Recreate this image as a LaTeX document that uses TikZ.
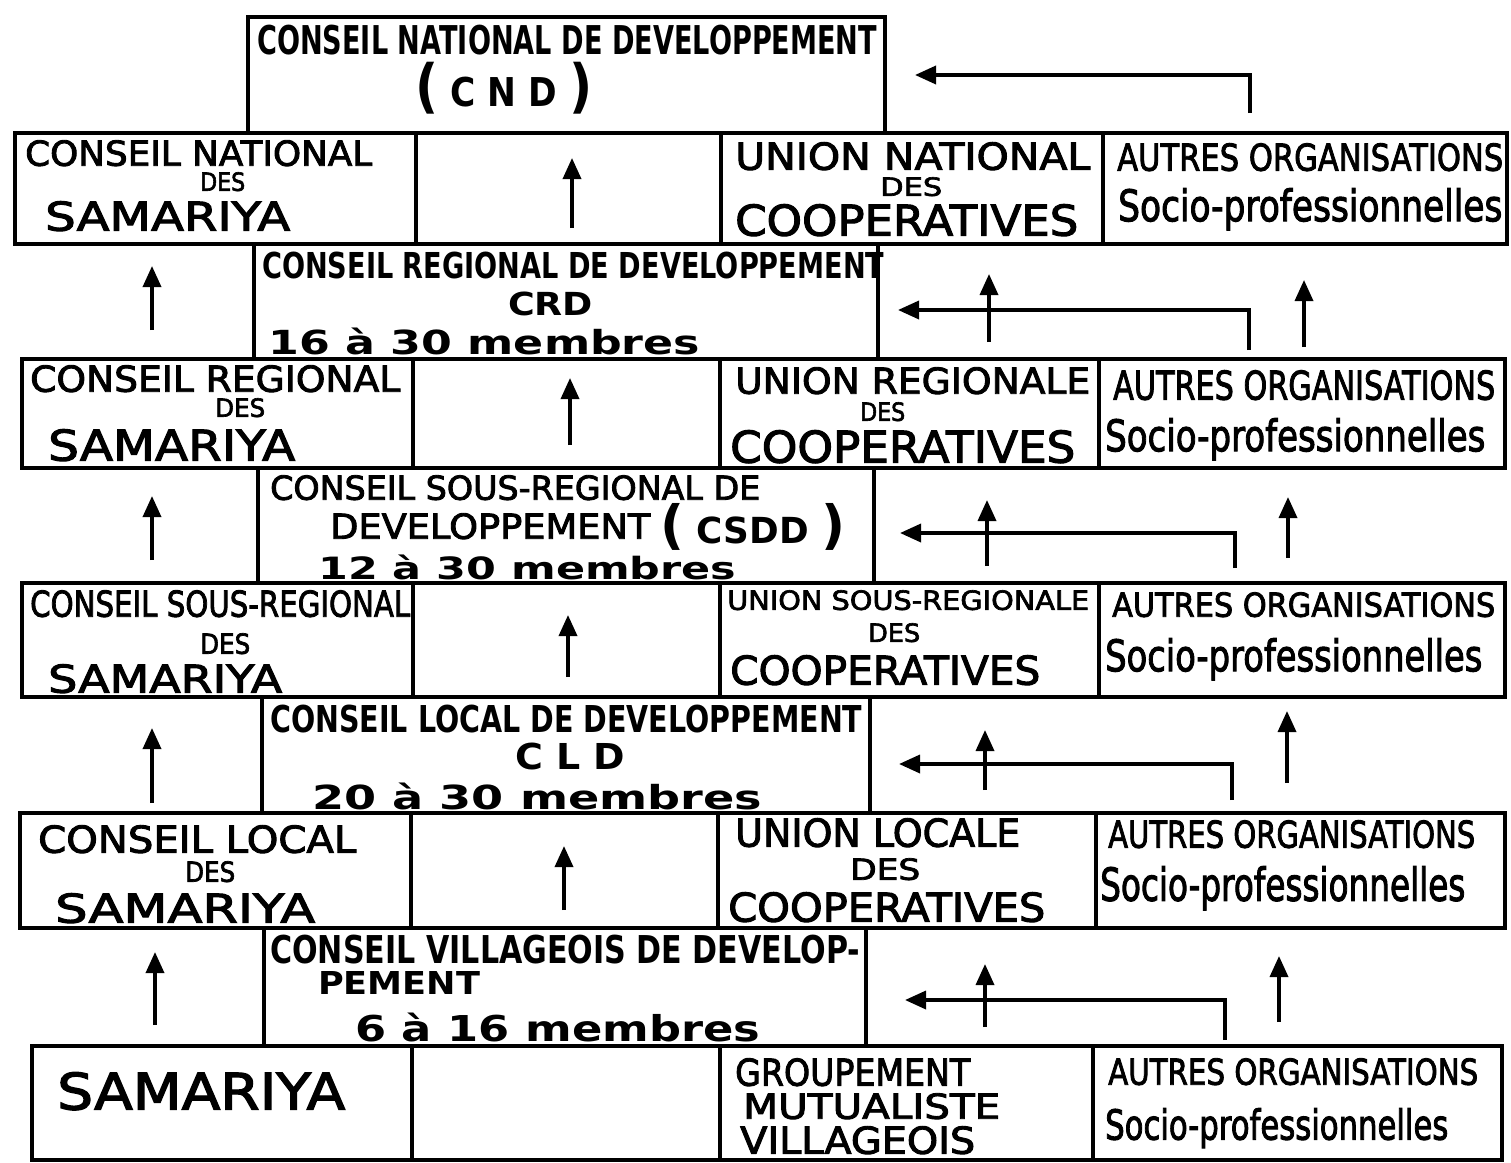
\documentclass[tikz,border=0pt]{standalone}
\usepackage{fontspec}
\setmainfont{DejaVu Sans}
\newfontfamily\hw{DejaVu Sans}[FakeBold=2.5]
\usepackage{graphicx}
\usetikzlibrary{arrows.meta}
\tikzset{
  cellb/.style={draw, line width=3.5pt, inner sep=0pt, rectangle},
  arr/.style={line width=3.5pt, -{Triangle[length=21pt,width=18pt]}},
  lbl/.style={anchor=north west, inner sep=0pt},
}
\newcommand\cellat[5]{%
  \pgfmathsetmacro\cw{#4-#2}\pgfmathsetmacro\ch{#5-#3}%
  \node[cellb, minimum width=\cw pt, minimum height=\ch pt] (#1) at ({(#2+#4)/2},{-(#3+#5)/2}) {};}
\newcommand\tx[6]{\node[lbl] (#1) at (#2,-#3) {\resizebox*{#4pt}{#5pt}{\hw #6}};}
\newcommand\bd{\normalfont\bfseries}
\newcommand\pn[1]{{\fontsize{20}{20}\selectfont(}{\fontsize{13.6}{14}\selectfont~#1~}{\fontsize{20}{20}\selectfont)}}
\newcommand\uparr[4]{\coordinate (#1s) at (#2,-#3); \coordinate (#1e) at (#2,-#4); \draw[arr] (#1s) -- (#1e);}
\newcommand\elbarr[5]{\coordinate (#1s) at (#2,-#3); \coordinate (#1e) at (#5,-#4); \draw[arr] (#1s) |- (#1e);}
\begin{document}
\begin{tikzpicture}[x=1pt,y=1pt]
\useasboundingbox (0,0) rectangle (1511,-1162);
% ---------- boxes ----------
\cellat{cnd}{248}{17}{885}{133}
\cellat{r1l}{15}{133}{416}{244}
\cellat{r1m}{416}{133}{721}{244}
\cellat{r1u}{721}{133}{1103}{244}
\cellat{r1a}{1103}{133}{1507}{244}
\cellat{crd}{254}{244}{878}{359}
\cellat{r3l}{22}{359}{413}{468}
\cellat{r3m}{413}{359}{720}{468}
\cellat{r3u}{720}{359}{1099}{468}
\cellat{r3a}{1099}{359}{1505}{468}
\cellat{csdd}{258}{468}{874}{583}
\cellat{r5l}{22}{583}{413}{697}
\cellat{r5m}{413}{583}{720}{697}
\cellat{r5u}{720}{583}{1099}{697}
\cellat{r5a}{1099}{583}{1505}{697}
\cellat{cld}{262}{697}{870}{813}
\cellat{r7l}{20}{813}{411}{928}
\cellat{r7m}{411}{813}{718}{928}
\cellat{r7u}{718}{813}{1096}{928}
\cellat{r7a}{1096}{813}{1505}{928}
\cellat{cvd}{264}{928}{866}{1046}
\cellat{r9l}{32}{1046}{412}{1160}
\cellat{r9m}{412}{1046}{720}{1160}
\cellat{r9g}{720}{1046}{1093}{1160}
\cellat{r9a}{1093}{1046}{1502}{1160}
% ---------- texts ----------
\tx{t0a}{257}{25}{620}{30}{\bd CONSEIL NATIONAL DE DEVELOPPEMENT}
\tx{t0b}{415}{62}{177}{52}{\bd\pn{C~N~D}}
% row 1
\tx{t1a}{25}{140}{347}{26}{CONSEIL NATIONAL}
\tx{t1b}{200}{172}{45}{19}{DES}
\tx{t1c}{45}{201}{245}{30}{SAMARIYA}
\tx{t1d}{735}{142}{355}{28}{UNION NATIONAL}
\tx{t1e}{880}{177}{62}{19}{DES}
\tx{t1f}{735}{204}{343}{32}{COOPERATIVES}
\tx{t1g}{1117}{143}{386}{28}{AUTRES ORGANISATIONS}
\tx{t1h}{1118}{188}{384}{42}{Socio-professionnelles}
% band 2
\tx{t2a}{262}{252}{622}{27}{\bd CONSEIL REGIONAL DE DEVELOPPEMENT}
\tx{t2b}{508}{292}{85}{24}{\bd CRD}
\tx{t2c}{268}{328}{432}{27}{\bd 16 à 30 membres}
% row 3
\tx{t3a}{30}{365}{370}{27}{CONSEIL REGIONAL}
\tx{t3b}{215}{398}{50}{19}{DES}
\tx{t3c}{48}{429}{247}{32}{SAMARIYA}
\tx{t3d}{735}{367}{355}{27}{UNION REGIONALE}
\tx{t3e}{860}{402}{45}{19}{DES}
\tx{t3f}{730}{430}{345}{33}{COOPERATIVES}
\tx{t3g}{1113}{370}{382}{30}{AUTRES ORGANISATIONS}
\tx{t3h}{1105}{418}{380}{42}{Socio-professionnelles}
% band 4
\tx{t4a}{270}{475}{490}{25}{CONSEIL SOUS-REGIONAL DE}
\tx{t4b}{330}{513}{320}{26}{DEVELOPPEMENT}
\tx{t4c}{660}{503}{185}{47}{\bd\pn{CSDD}}
\tx{t4d}{318}{555}{418}{25}{\bd 12 à 30 membres}
% row 5
\tx{t5a}{30}{590}{380}{27}{CONSEIL SOUS-REGIONAL}
\tx{t5b}{200}{633}{50}{21}{DES}
\tx{t5c}{48}{664}{234}{29}{SAMARIYA}
\tx{t5d}{727}{590}{362}{20}{UNION SOUS-REGIONALE}
\tx{t5e}{868}{623}{52}{19}{DES}
\tx{t5f}{730}{655}{310}{30}{COOPERATIVES}
\tx{t5g}{1112}{592}{383}{25}{AUTRES ORGANISATIONS}
\tx{t5h}{1105}{638}{377}{42}{Socio-professionnelles}
% band 6
\tx{t6a}{270}{705}{592}{28}{\bd CONSEIL LOCAL DE DEVELOPPEMENT}
\tx{t6b}{515}{743}{110}{27}{\bd C L D}
\tx{t6c}{312}{783}{450}{27}{\bd 20 à 30 membres}
% row 7
\tx{t7a}{38}{825}{318}{28}{CONSEIL LOCAL}
\tx{t7b}{185}{861}{50}{21}{DES}
\tx{t7c}{55}{893}{260}{30}{SAMARIYA}
\tx{t7d}{735}{818}{285}{29}{UNION LOCALE}
\tx{t7e}{850}{858}{70}{22}{DES}
\tx{t7f}{728}{892}{317}{30}{COOPERATIVES}
\tx{t7g}{1108}{820}{367}{28}{AUTRES ORGANISATIONS}
\tx{t7h}{1100}{866}{365}{44}{Socio-professionnelles}
% band 8
\tx{t8a}{270}{935}{590}{29}{\bd CONSEIL VILLAGEOIS DE DEVELOP-}
\tx{t8b}{318}{971}{162}{23}{\bd PEMENT}
\tx{t8c}{355}{1013}{405}{29}{\bd 6 à 16 membres}
% row 9
\tx{t9a}{57}{1072}{288}{38}{SAMARIYA}
\tx{t9b}{735}{1058}{235}{28}{GROUPEMENT}
\tx{t9c}{743}{1093}{257}{26}{MUTUALISTE}
\tx{t9d}{740}{1126}{235}{28}{VILLAGEOIS}
\tx{t9e}{1108}{1058}{370}{27}{AUTRES ORGANISATIONS}
\tx{t9f}{1105}{1108}{343}{40}{Socio-professionnelles}
% ---------- arrows ----------
\elbarr{a0}{1250}{113}{75}{915}
% middle column arrows
\uparr{m1}{572}{228}{158}
\uparr{m3}{570}{445}{378}
\uparr{m5}{568}{677}{615}
\uparr{m7}{564}{910}{846}
% left column arrows in bands
\uparr{l2}{152}{330}{266}
\uparr{l4}{152}{560}{496}
\uparr{l6}{152}{803}{728}
\uparr{l8}{155}{1025}{952}
% band 2
\elbarr{e2}{1249}{350}{310}{898}
\uparr{u2}{989}{342}{274}
\uparr{v2}{1304}{347}{280}
% band 4
\elbarr{e4}{1235}{568}{533}{900}
\uparr{u4}{987}{566}{500}
\uparr{v4}{1288}{558}{497}
% band 6
\elbarr{e6}{1232}{800}{764}{899}
\uparr{u6}{985}{790}{730}
\uparr{v6}{1287}{783}{711}
% band 8
\elbarr{e8}{1225}{1040}{1000}{905}
\uparr{u8}{985}{1027}{964}
\uparr{v8}{1279}{1022}{956}
\end{tikzpicture}
\end{document}
